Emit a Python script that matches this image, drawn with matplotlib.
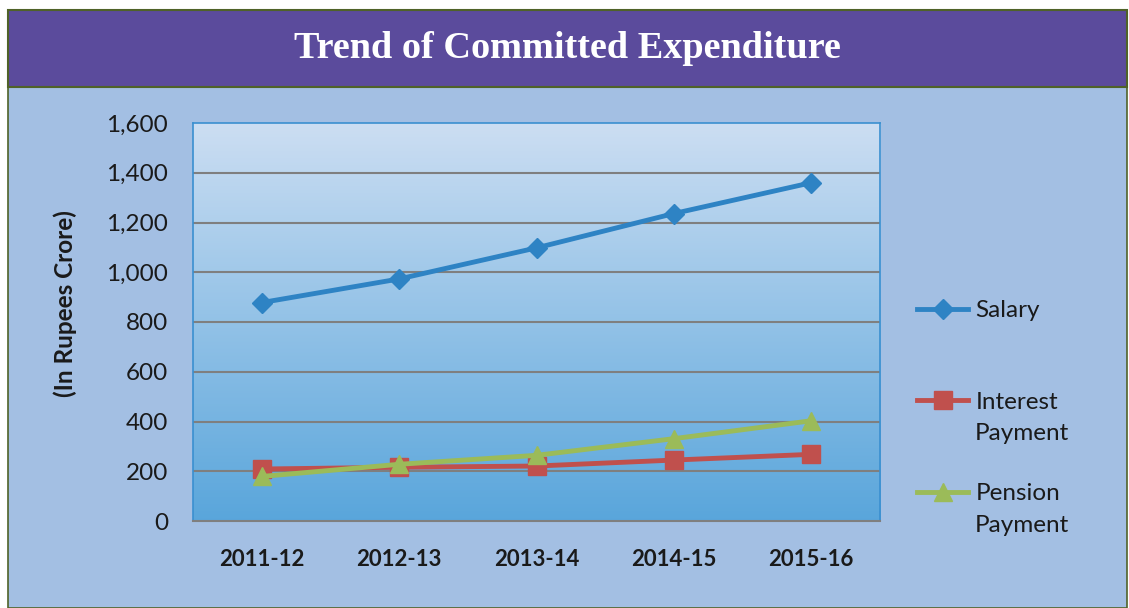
import matplotlib
matplotlib.use("Agg")
import matplotlib.pyplot as plt
from matplotlib.patches import Rectangle
import numpy as np

# values (in Rupees Crore)
years = ['2011-12', '2012-13', '2013-14', '2014-15', '2015-16']
salary = [878, 973, 1098, 1236, 1360]
interest = [209, 216, 221, 245, 268]
pension = [179, 228, 264, 331, 403]
yticks = [0, 200, 400, 600, 800, 1000, 1200, 1400, 1600]

plt.rcParams['font.family'] = ['Lato', 'DejaVu Sans']

fig = plt.figure(figsize=(11.29, 6.08), dpi=100)
fig.patch.set_facecolor('white')

W, H = 1129, 608
# body and header boxes
fig.patches.append(Rectangle((8 / W, 0), 1119 / W, (608 - 87) / H, transform=fig.transFigure,
                             facecolor='#a3bfe3', edgecolor='#4f6228', lw=1.2, zorder=0))
fig.patches.append(Rectangle((8 / W, (608 - 87) / H), 1119 / W, 77 / H, transform=fig.transFigure,
                             facecolor='#5b4b9c', edgecolor='#4f6228', lw=1.5, zorder=0))
fig.text((8 + 1127) / 2 / W, 1 - 49 / H, 'Trend of Committed Expenditure', color='white',
         fontsize=27.5, fontweight='bold', family='Liberation Serif', ha='center', va='center')

ax = fig.add_axes([193 / W, 1 - 521 / H, 687 / W, 398 / H])
ax.set_zorder(3)
x = np.arange(len(years))

# gradient background of plot area
grad = np.linspace(0, 1, 256).reshape(-1, 1)
top = np.array([0.80, 0.87, 0.95])
bot = np.array([0.35, 0.65, 0.86])
img = top * (1 - grad[..., None]) + bot * grad[..., None]
img = img.reshape(256, 1, 3)
ax.imshow(img, extent=[-0.5, len(years) - 0.5, 0, 1600], aspect='auto', zorder=0)

for v in yticks[1:-1]:
    ax.axhline(v, color='#7f7f7f', lw=1.5, zorder=1)

l1, = ax.plot(x, salary, color='#2e83c4', lw=3.5, marker='D', ms=10, zorder=4)
l2, = ax.plot(x, interest, color='#c0504d', lw=3.5, marker='s', ms=13, zorder=3)
l3, = ax.plot(x, pension, color='#9bbb59', lw=3.5, marker='^', ms=13, zorder=3)

ax.set_xlim(-0.5, len(years) - 0.5)
ax.set_ylim(0, 1600)
ax.set_yticks(yticks)
ax.set_yticklabels([f'{v:,}' for v in yticks], fontsize=17.5, color='#1a1a1a')
ax.set_xticks(x)
ax.set_xticklabels(years, fontsize=16, fontweight='bold', color='#1a1a1a')
ax.tick_params(length=0)
ax.tick_params(axis='y', pad=18)
ax.tick_params(axis='x', pad=20)
for s in ['top', 'left', 'right']:
    ax.spines[s].set_color('#3a8fd0')
    ax.spines[s].set_linewidth(1.2)
ax.spines['bottom'].set_color('#7f7f7f')
ax.spines['bottom'].set_linewidth(1.5)

fig.text(65 / W, 1 - 304 / H, '(In Rupees Crore)', rotation=90, fontsize=17.5, fontweight='bold',
         color='#1a1a1a', ha='center', va='center')

leg = fig.legend([l1, l2, l3], ['Salary', 'Interest', 'Pension'], loc='upper left',
                 bbox_to_anchor=(905 / W, 1 - 288 / H), frameon=False, fontsize=17.5,
                 handlelength=2.1, handletextpad=0.3, labelspacing=2.9, borderpad=0)
for t in leg.get_texts():
    t.set_color('#1a1a1a')
fig.text(975 / W, 1 - 434 / H, 'Payment', fontsize=17.5, color='#1a1a1a', va='center')
fig.text(975 / W, 1 - 526 / H, 'Payment', fontsize=17.5, color='#1a1a1a', va='center')

fig.savefig('out.png', dpi=100)
